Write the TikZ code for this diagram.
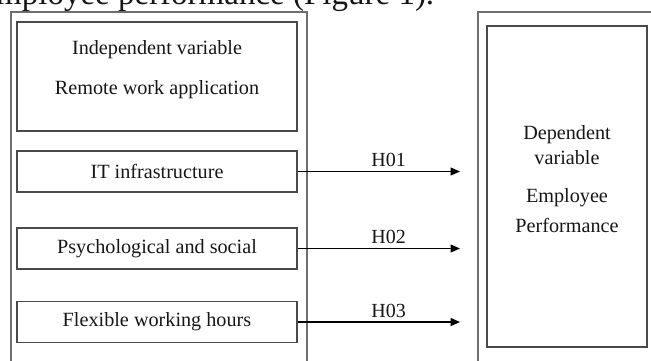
\documentclass[tikz,border=0pt]{standalone}
\usepackage{fontspec}
\setmainfont{Liberation Serif}
\usetikzlibrary{arrows.meta}
\definecolor{framegray}{HTML}{6E6E6E}
\definecolor{boxgray}{HTML}{4A4A4A}
\definecolor{inkgray}{HTML}{161616}
\tikzset{
  x=1pt, y=-1pt,
  frame/.style={draw=framegray, line width=1.1pt},
  varbox/.style={draw=boxgray, line width=1.2pt, rectangle, minimum width=280pt, inner sep=0pt},
  label/.style={text=inkgray, font=\fontsize{20.2}{24}\selectfont, inner sep=0pt},
  hyplabel/.style={text=inkgray, font=\fontsize{20}{24}\selectfont, inner sep=0pt, above=4pt},
  hyparrow/.style={draw=black, line width=1.3pt, -{Triangle[length=9.5pt,width=8pt]}}
}
\begin{document}
\begin{tikzpicture}
\useasboundingbox (0,0) rectangle (651,360);
\clip (0,0) rectangle (651,360);

% running text of the page above the figure
\node[label, anchor=base west, font=\fontsize{33}{38}\selectfont] (caption) at (-4,4) {mployee performance (Figure 1).};

% outer frames
\draw[frame] (11,375) -- (11,12) -- (307,12) -- (307,375);
\draw[frame] (478,375) -- (478,12) -- (665,12);

% independent variable boxes
\node[varbox, minimum height=109pt] (indep) at (157,76.5) {};
\node[label] (indepA) at (157,50) {Independent variable};
\node[label] (indepB) at (157,90) {Remote work application};

\node[varbox, minimum height=41pt, label] (it) at (157,171.5) {IT infrastructure};
\node[varbox, minimum height=41pt, label] (psy) at (157,248.5) {Psychological and social};
\node[varbox, minimum height=41pt, label] (flex) at (157,322) {Flexible working hours};

% dependent variable box
\node[draw=boxgray, line width=1.2pt, minimum width=160pt, minimum height=321pt, inner sep=0pt] (dep) at (567,186.5) {};
\node[label] (depA) at (567,135) {Dependent};
\node[label] (depB) at (567,158) {variable};
\node[label] (depC) at (567,198) {Employee};
\node[label] (depD) at (567,225) {Performance};

% hypothesis arrows
\coordinate (tip) at (460,0);
\draw[hyparrow] (it.east) -- (it.east -| tip) node[hyplabel, pos=0.56] (h1) {H01};
\draw[hyparrow] (psy.east) -- (psy.east -| tip) node[hyplabel, pos=0.56] (h2) {H02};
\draw[hyparrow] (flex.east) -- (flex.east -| tip) node[hyplabel, pos=0.56] (h3) {H03};
\end{tikzpicture}
\end{document}
